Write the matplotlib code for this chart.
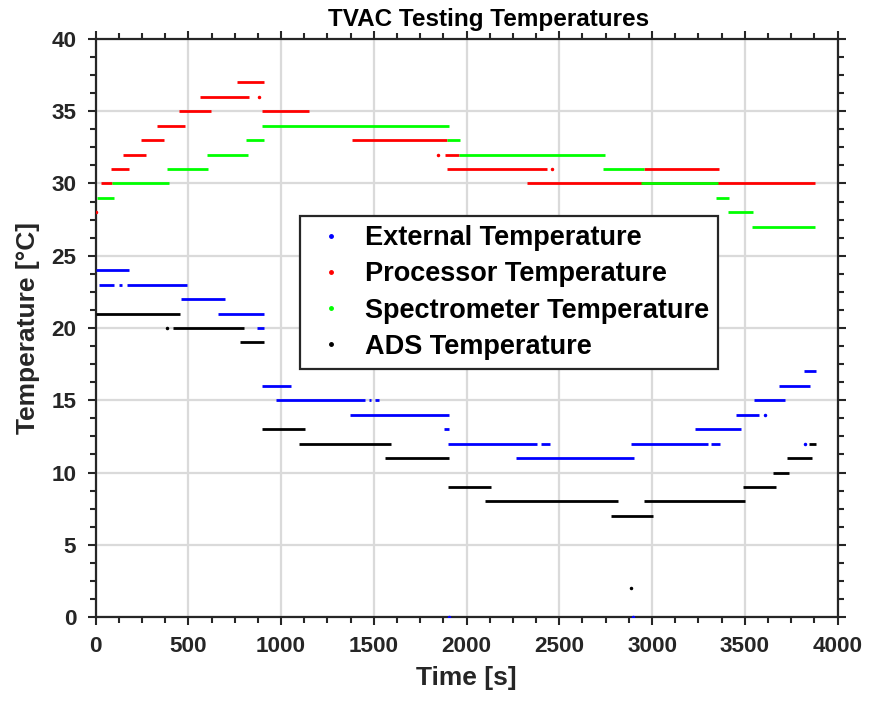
import matplotlib
matplotlib.use('Agg')
import matplotlib.pyplot as plt
from matplotlib.lines import Line2D
from matplotlib.ticker import MultipleLocator

# step segments: start [s], end [s], temperature [C]
ext_start = [2, 20, 124, 169, 462, 659, 870, 897, 974, 1475, 1505, 1373, 1880,
             1899, 2400, 2266, 2888, 3319, 3233, 3452, 3547, 3682, 3817]
ext_end = [178, 97, 140, 492, 699, 906, 906, 1055, 1455, 1485, 1530, 1903, 1903,
           2380, 2451, 2900, 3301, 3367, 3481, 3578, 3718, 3853, 3883]
ext_temp = [24, 23, 23, 23, 22, 21, 20, 16, 15, 15, 15, 14, 13,
            12, 12, 11, 12, 12, 13, 14, 15, 16, 17]
ext_pt_t = [3610, 3826, 1905, 2895]
ext_pt_v = [14, 12, 0, 0]

proc_start = [31, 85, 149, 246, 329, 447, 564, 765, 896, 1385, 1885, 1895, 2325, 2954]
proc_end = [88, 178, 271, 367, 483, 622, 825, 906, 1148, 1894, 1957, 2433, 3880, 3362]
proc_temp = [30, 31, 32, 33, 34, 35, 36, 37, 35, 33, 32, 31, 30, 31]
proc_pt_t = [2, 882, 1844, 2460]
proc_pt_v = [28, 36, 32, 31]

spec_start = [7, 88, 385, 600, 812, 897, 1894, 1957, 2733, 2942, 3344, 3407, 3539]
spec_end = [97, 394, 605, 821, 906, 1903, 1966, 2748, 2954, 3355, 3416, 3544, 3880]
spec_temp = [29, 30, 31, 32, 33, 34, 33, 32, 31, 30, 29, 28, 27]

ads_start = [2, 415, 780, 897, 1098, 1558, 1899, 2101, 2778, 2958, 3490, 3651, 3730, 3848]
ads_end = [456, 801, 909, 1130, 1592, 1907, 2133, 2816, 3003, 3503, 3669, 3741, 3861, 3883]
ads_temp = [21, 20, 19, 13, 12, 11, 9, 8, 7, 8, 9, 10, 11, 12]
ads_pt_t = [385, 2888]
ads_pt_v = [20, 2]

labels = ['External Temperature', 'Processor Temperature',
          'Spectrometer Temperature', 'ADS Temperature']
colors = ['#0000ff', '#ff0000', '#00ff00', '#000000']

plt.rcParams['font.family'] = ['Liberation Sans', 'DejaVu Sans']
plt.rcParams['font.weight'] = 'bold'
dark = '#262626'

fig = plt.figure(figsize=(8.77, 7.01), dpi=100)
ax = fig.add_axes([0.109, 0.1198, 0.846, 0.8246])

seg_lw = 2.0
ax.hlines(ext_temp, ext_start, ext_end, colors=colors[0], linewidth=seg_lw, zorder=3)
ax.plot(ext_pt_t, ext_pt_v, '.', color=colors[0], markersize=3, zorder=3)
ax.hlines(proc_temp, proc_start, proc_end, colors=colors[1], linewidth=seg_lw, zorder=4)
ax.plot(proc_pt_t, proc_pt_v, '.', color=colors[1], markersize=3, zorder=4)
ax.hlines(spec_temp, spec_start, spec_end, colors=colors[2], linewidth=seg_lw, zorder=5)
ax.hlines(ads_temp, ads_start, ads_end, colors=colors[3], linewidth=seg_lw, zorder=6)
ax.plot(ads_pt_t, ads_pt_v, '.', color=colors[3], markersize=3, zorder=6)

ax.set_xlim(0, 4000)
ax.set_ylim(0, 40)
ax.xaxis.set_major_locator(MultipleLocator(500))
ax.xaxis.set_minor_locator(MultipleLocator(125))
ax.yaxis.set_major_locator(MultipleLocator(5))
ax.yaxis.set_minor_locator(MultipleLocator(1.25))
ax.grid(True, which='major', color='#dadada', linewidth=1.6, zorder=0)
ax.set_axisbelow(True)

ax.tick_params(which='both', direction='out', top=True, right=True,
               colors=dark, width=1.5, labelsize=16.2)
ax.tick_params(which='major', length=6, pad=8)
ax.tick_params(which='minor', length=4)
for sp in ax.spines.values():
    sp.set_color(dark)
    sp.set_linewidth(1.6)
for lab in ax.get_xticklabels() + ax.get_yticklabels():
    lab.set_fontweight('bold')

ax.set_xlabel('Time [s]', fontsize=19, fontweight='bold', color=dark, labelpad=6)
ax.set_ylabel('Temperature [°C]', fontsize=19, fontweight='bold', color=dark, labelpad=8)
ax.set_title('TVAC Testing Temperatures', fontsize=17.5, fontweight='bold',
             color='black', x=0.529, pad=9)

handles = [Line2D([], [], linestyle='none', marker='.', markersize=5, color=c)
           for c in colors]
leg = ax.legend(handles, labels, loc='center',
                bbox_to_anchor=(509 / 877, 1 - 292.5 / 701),
                bbox_transform=fig.transFigure,
                prop={'size': 19.5, 'weight': 'bold'}, fancybox=False,
                framealpha=1, edgecolor=dark, handlelength=1.6,
                handletextpad=0.45, labelspacing=0.37, borderpad=0.35)
leg.get_frame().set_linewidth(1.6)
leg.set_zorder(10)

fig.savefig('out.png', dpi=100)
